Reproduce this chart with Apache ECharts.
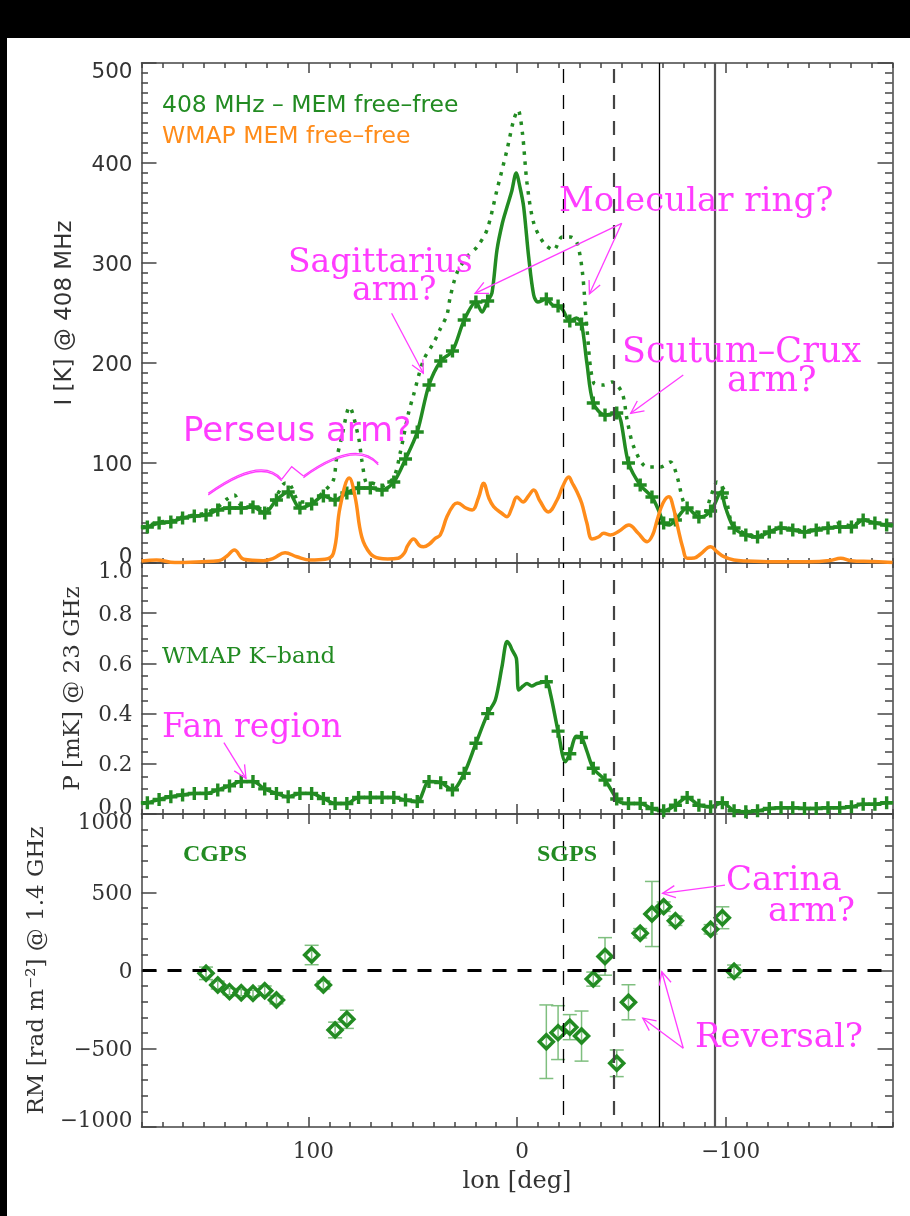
<!DOCTYPE html>
<html>
<head>
<meta charset="utf-8">
<script src="https://cdn.jsdelivr.net/npm/echarts@6/dist/echarts.min.js"></script>
<style>
  html, body { margin: 0; padding: 0; background: #000; width: 910px; height: 1216px; overflow: hidden; }
  #chart { position: absolute; left: 7px; top: 38px; width: 903px; height: 1178px; background: #fff; }
</style>
</head>
<body>
<div id="chart"></div>
<script>
// ---------------- data ----------------
// 408 MHz minus MEM free-free, brightness temperature [K] (fine sampling)
const lonI = [180, 177.19, 171.56, 165.94, 160.31, 154.69, 149.06, 143.44, 137.81, 132.19,
  126.56, 120.94, 115.31, 109.69, 104.06, 98.44, 92.81, 87.19, 81.56, 75.94,
  70.31, 64.69, 59.06, 53.44, 47.81, 42.19, 36.56, 30.94, 25.31, 19.69,
  16.8, 14.06, 12, 9.6, 7, 4.8, 2.5, 0.4, -1.5, -3.2,
  -5.6, -8, -10, -14.06, -17, -19.69, -22, -25.31, -28.5, -30.94,
  -33.5, -36.56, -42.19, -47.81, -53.44, -59.06, -64.69, -68, -70.31, -73,
  -75.94, -81.56, -87.19, -90, -92.81, -95, -97.6, -100, -104.06, -109.69,
  -115.31, -120.94, -126.56, -132.19, -137.81, -143.44, -149.06, -154.69, -160.31, -165.94,
  -171.56, -177.19, -180];
const valI = [35, 36, 40, 41, 45, 47, 48, 53, 55, 55,
  56, 50, 63, 71, 55, 59, 67, 63, 70, 75,
  75, 73, 81, 104, 131, 178, 202, 212, 243, 261,
  251, 262, 270, 313, 340, 356, 372, 390, 375, 356,
  306, 268, 261, 264, 258, 257, 253, 242, 245, 239,
  200, 160, 148, 150, 100, 78, 66, 52, 40, 38,
  43, 55, 46, 47, 52, 60, 71, 55, 35, 28,
  26, 31, 35, 33, 31, 33, 35, 36, 36, 43,
  40, 38, 37];

// total 408 MHz brightness [K] (dotted)
const lonD = [180, 177.19, 171.56, 165.94, 160.31, 154.69, 149.06, 143.44, 139, 135.5,
  132.19, 126.56, 120.94, 115.31, 111, 109.69, 104.06, 98.44, 92.81, 88,
  86.6, 84, 80.3, 76, 74.4, 72, 70.31, 64.69, 59.06, 56,
  52, 49.6, 44.8, 40, 36.8, 33.6, 32, 28.8, 24, 19.2,
  14.4, 9.6, 4.8, 1.6, -0.5, -2.6, -4.8, -8, -12.8, -17.6,
  -21.6, -25.6, -28.8, -31.4, -33.6, -36.8, -41.6, -45.6, -50.4, -52.8,
  -56, -62.4, -68.8, -73.6, -76.8, -80, -83.2, -89.6, -92.8, -96,
  -99.2, -102.4, -104.06, -109.69, -115.31, -120.94, -126.56, -132.19, -137.81, -143.44,
  -149.06, -154.69, -160.31, -165.94, -171.56, -177.19, -180];
const valD = [36, 37, 41, 42, 46, 48, 50, 56, 64, 68,
  58, 58, 52, 67, 80, 80, 61, 62, 71, 83,
  103, 126, 156, 126, 103, 80, 80, 77, 86, 110,
  150, 168, 203, 220, 234, 248, 266, 290, 306, 316,
  333, 373, 413, 443, 453, 430, 380, 340, 320, 313,
  326, 326, 320, 290, 233, 180, 178, 181, 170, 143,
  116, 96, 96, 101, 86, 60, 53, 50, 66, 81,
  73, 43, 37, 29, 27, 32, 36, 34, 32, 34,
  37, 40, 37, 43, 40, 38, 37];

// WMAP MEM free-free, scaled to 408 MHz [K]
const lonO = [180, 172.8, 164, 151, 143, 139, 135.5, 131, 121.6, 116.8,
  111.2, 105.6, 99, 92, 88, 84.8, 80.4, 77.6, 74.4, 70.4,
  66, 62, 57, 54, 52.5, 49.6, 46.5, 44.8, 42, 39.2,
  36.8, 33.6, 30.4, 28.5, 24.5, 21.5, 18.5, 16, 13.5, 11.2,
  7.5, 4.8, 2.5, 0, -2.9, -5.5, -8, -11, -15, -19.2,
  -22, -24.8, -26.5, -28.8, -31, -33.5, -36, -39, -41.6, -44.8,
  -49, -53.6, -58, -62.4, -65, -67.2, -70, -72.8, -75, -77,
  -79.5, -81.6, -85, -88, -92.8, -96, -99.2, -104, -110, -123,
  -140, -150, -155.2, -160, -170, -180];
const valO = [2, 3, 0.5, 1.3, 2.3, 7, 13, 3.7, 2.3, 4.7,
  10.3, 6.3, 3, 3.7, 9.7, 56, 85, 66, 26, 9.7,
  4.7, 4, 4.7, 10, 17, 24, 17, 16.3, 19, 24.7,
  28, 46.3, 58, 60, 55, 53, 65, 79.7, 65, 56.3,
  50, 46.3, 55, 66, 61, 67, 73, 62, 51, 63,
  77, 86, 80, 71, 60, 40, 24, 26, 29.7, 28,
  32, 38, 30, 21.3, 28, 43, 60, 66.3, 55, 36.3,
  15, 4.7, 5, 9, 16.3, 11, 6.3, 3, 2, 1.3,
  1.3, 2.5, 4.7, 2.3, 1.5, 0.5];

// WMAP K-band polarized intensity [mK]
const lonP = [180, 177.19, 171.56, 165.94, 160.31, 154.69, 149.06, 143.44, 137.81, 132.19,
  126.56, 120.94, 115.31, 109.69, 104.06, 98.44, 92.81, 87.19, 81.56, 75.94,
  70.31, 64.69, 59.06, 53.44, 47.81, 42.19, 36.56, 30.94, 25.31, 19.69,
  14.06, 10.4, 7.2, 4.8, 3.5, 2.4, 0.3, -0.8, -3, -4.8,
  -7, -9.6, -14.06, -16, -19.69, -23.2, -25.31, -28.5, -30.94, -33.6,
  -36.56, -42.19, -47.81, -50, -53.44, -59.06, -64.69, -70.31, -75.94, -81.56,
  -87.19, -92.81, -98.44, -104.06, -109.69, -115.31, -120.94, -126.56, -132.19, -137.81,
  -143.44, -149.06, -154.69, -160.31, -165.94, -171.56, -177.19, -180];
const valP = [0.042, 0.045, 0.058, 0.069, 0.076, 0.082, 0.082, 0.096, 0.112, 0.129,
  0.129, 0.100, 0.082, 0.069, 0.082, 0.082, 0.062, 0.042, 0.042, 0.066,
  0.066, 0.066, 0.066, 0.056, 0.050, 0.129, 0.125, 0.096, 0.162, 0.282,
  0.400, 0.454, 0.587, 0.687, 0.675, 0.654, 0.620, 0.494, 0.510, 0.520,
  0.510, 0.520, 0.527, 0.480, 0.330, 0.208, 0.240, 0.310, 0.305, 0.248,
  0.182, 0.135, 0.060, 0.045, 0.042, 0.042, 0.022, 0.013, 0.035, 0.066,
  0.035, 0.029, 0.045, 0.013, 0.009, 0.013, 0.022, 0.025, 0.025, 0.022,
  0.022, 0.025, 0.025, 0.029, 0.039, 0.039, 0.045, 0.045];

// longitude bins carrying '+' symbols
const lonPlus = [177.19, 171.56, 165.94, 160.31, 154.69, 149.06, 143.44, 137.81, 132.19, 126.56,
  120.94, 115.31, 109.69, 104.06, 98.44, 92.81, 87.19, 81.56, 75.94, 70.31,
  64.69, 59.06, 53.44, 47.81, 42.19, 36.56, 30.94, 25.31, 19.69, 14.06,
  -14.06, -19.69, -25.31, -30.94, -36.56, -42.19, -47.81, -53.44, -59.06, -64.69,
  -70.31, -75.94, -81.56, -87.19, -92.81, -98.44, -104.06, -109.69, -115.31, -120.94,
  -126.56, -132.19, -137.81, -143.44, -149.06, -154.69, -160.31, -165.94, -171.56, -177.19];
const plusI = [36, 40, 41, 45, 47, 48, 53, 55, 55, 56,
  50, 63, 71, 55, 59, 67, 63, 70, 75, 75,
  73, 81, 104, 131, 178, 202, 212, 243, 261, 262,
  264, 257, 242, 239, 160, 148, 150, 100, 78, 66,
  40, 43, 55, 46, 52, 70, 35, 28, 26, 31,
  35, 33, 31, 33, 35, 36, 36, 43, 40, 38];
const plusP = [0.045, 0.058, 0.069, 0.076, 0.082, 0.082, 0.096, 0.112, 0.129, 0.129,
  0.100, 0.082, 0.069, 0.082, 0.082, 0.062, 0.042, 0.042, 0.066, 0.066,
  0.066, 0.066, 0.056, 0.050, 0.129, 0.125, 0.096, 0.162, 0.282, 0.400,
  0.527, 0.330, 0.240, 0.305, 0.182, 0.135, 0.060, 0.042, 0.042, 0.022,
  0.013, 0.035, 0.066, 0.035, 0.029, 0.045, 0.013, 0.009, 0.013, 0.022,
  0.025, 0.025, 0.022, 0.022, 0.025, 0.025, 0.029, 0.039, 0.039, 0.045];

// rotation measures at 1.4 GHz (CGPS and SGPS fields) [rad m^-2]
const lonRM = [149.06, 143.44, 137.81, 132.19, 126.56, 120.94, 115.31, 98.44, 92.81, 87.19, 81.56,
  -14.06, -19.69, -25.31, -30.94, -36.56, -42.19, -47.81, -53.44, -59.06, -64.69,
  -70.31, -75.94, -92.81, -98.44, -104.06];
const rmVal = [-18, -93, -135, -142, -146, -129, -188, 99, -93, -380, -312,
  -455, -397, -362, -419, -55, 90, -593, -203, 238, 361,
  408, 318, 263, 337, -5];
const rmErr = [40, 25, 20, 20, 20, 30, 25, 62, 25, 50, 58,
  235, 172, 80, 160, 45, 120, 85, 112, 30, 208,
  30, 30, 30, 70, 40];

// reference longitudes marked across all panels
const refLon = [-22, -46.5, -68, -95];

// x tick labels
const lonTicks = [100, 0, -100];

// ---------------- styling ----------------
const GREEN = '#228b22';
const ORANGE = '#ff8c1a';
const MAGENTA = '#ff3cff';
const ERRC = '#7fbf7f';
const FRAME = '#444';
const LABEL = '#333';
const SANS = "'DejaVu Sans ExtraLight', 'DejaVu Sans', sans-serif";
const SERIF = "'DejaVu Serif', serif";
const TIMES = "'Liberation Serif', serif";
const PLUS = 'path://M4.8,0H8.2V4.8H13V8.2H8.2V13H4.8V8.2H0V4.8H4.8Z';

const zip = (a, b) => a.map((x, i) => [x, b[i]]);
const minus = v => (v < 0 ? '\u2212' + Math.abs(v) : String(v));

const grids = [
  { left: 134.5, width: 751, top: 25, height: 500 },
  { left: 134.5, width: 751, top: 525, height: 251 },
  { left: 134.5, width: 751, top: 776, height: 313 }
];

const yCfg = [
  { min: 0, max: 500, major: 100, minor: 10, font: SANS, fmt: v => String(v),
    name: 'I [K] @ 408 MHz', gap: 65, nameSize: 23 },
  { min: 0, max: 1, major: 0.2, minor: 0.05, font: SERIF, fmt: v => v.toFixed(1),
    name: 'P [mK] @ 23 GHz', gap: 57, nameSize: 23 },
  { min: -1000, max: 1000, major: 500, minor: 100, font: SERIF, fmt: minus,
    name: 'RM [rad m\u207B\u00B2] @ 1.4 GHz', gap: 93, nameSize: 23 }
];

const frameLine = { lineStyle: { color: FRAME, width: 1.5 } };

function xAxes(g) {
  const base = { gridIndex: g, type: 'value', min: -180, max: 180, inverse: true,
    splitLine: { show: false }, axisPointer: { show: false } };
  const bottomLabels = g === 2;
  const major = {
    ...base, position: 'bottom',
    axisLine: { show: true, onZero: false, ...frameLine },
    axisTick: { show: true, inside: true, length: 10, customValues: lonTicks, ...frameLine },
    axisLabel: bottomLabels ? {
      show: true, customValues: lonTicks, margin: 14, color: LABEL,
      fontFamily: SERIF, fontSize: 21.5,
      formatter: v => '{a|' + minus(v) + '}',
      rich: { a: { padding: [0, 0, 0, 10] } }
    } : { show: false }
  };
  if (bottomLabels) {
    major.name = 'lon [deg]';
    major.nameLocation = 'middle';
    major.nameGap = 43;
    major.nameTextStyle = { fontFamily: SERIF, fontSize: 24, color: LABEL };
  }
  return [
    major,
    { ...base, position: 'bottom', interval: 10,
      axisLine: { show: false, onZero: false },
      axisTick: { show: true, inside: true, length: 5, ...frameLine },
      axisLabel: { show: false } },
    { ...base, position: 'top',
      axisLine: { show: true, onZero: false, ...frameLine },
      axisTick: { show: true, inside: true, length: 10, customValues: lonTicks, ...frameLine },
      axisLabel: { show: false } },
    { ...base, position: 'top', interval: 10,
      axisLine: { show: false, onZero: false },
      axisTick: { show: true, inside: true, length: 5, ...frameLine },
      axisLabel: { show: false } }
  ];
}

function yAxes(g) {
  const c = yCfg[g];
  const base = { gridIndex: g, type: 'value', min: c.min, max: c.max,
    splitLine: { show: false }, axisPointer: { show: false } };
  const near = (a, b) => Math.abs(a - b) < 1e-9;
  return [
    { ...base, position: 'left', interval: c.major,
      axisLine: { show: true, onZero: false, ...frameLine },
      axisTick: { show: true, inside: true, length: 15, ...frameLine },
      axisLabel: {
        show: true, margin: 9, color: LABEL, fontFamily: c.font, fontSize: 21.5,
        formatter: v => {
          const s = c.fmt(v);
          if (near(v, c.max)) return '{t|' + s + '}';
          if (near(v, c.min)) return '{b|' + s + '}';
          return '{m|' + s + '}';
        },
        rich: {
          t: { padding: [19, 0, 0, 0] },
          m: { padding: [4, 0, 0, 0] },
          b: { padding: [0, 0, 12, 0] }
        }
      },
      name: c.name, nameLocation: 'middle', nameGap: c.gap,
      nameTextStyle: { fontFamily: c.font, fontSize: c.nameSize, color: LABEL } },
    { ...base, position: 'left', interval: c.minor,
      axisLine: { show: false, onZero: false },
      axisTick: { show: true, inside: true, length: 6.5, ...frameLine },
      axisLabel: { show: false } },
    { ...base, position: 'right', interval: c.major,
      axisLine: { show: true, onZero: false, ...frameLine },
      axisTick: { show: true, inside: true, length: 15, ...frameLine },
      axisLabel: { show: false } },
    { ...base, position: 'right', interval: c.minor,
      axisLine: { show: false, onZero: false },
      axisTick: { show: true, inside: true, length: 7.5, ...frameLine },
      axisLabel: { show: false } }
  ];
}

// vertical reference lines: two dashed, two solid
const refStyles = [
  { type: [14, 12], color: '#000', width: 1.3, dashOffset: 14 },
  { type: [14, 12], color: '#444', width: 2.2, dashOffset: 14 },
  { type: 'solid', color: '#000', width: 1.3 },
  { type: 'solid', color: '#555', width: 2.2 }
];
const refLines = refLon.map((l, i) => ({ xAxis: l, lineStyle: refStyles[i] }));
const markRefs = extra => ({
  silent: true, animation: false, symbol: ['none', 'none'],
  label: { show: false }, emphasis: { disabled: true },
  data: refLines.concat(extra || [])
});

const ax = g => ({ xAxisIndex: 4 * g, yAxisIndex: 4 * g });

const option = {
  animation: false,
  backgroundColor: '#fff',
  grid: grids.map(r => ({ ...r, containLabel: false, outerBoundsMode: 'none' })),
  xAxis: [0, 1, 2].flatMap(xAxes),
  yAxis: [0, 1, 2].flatMap(yAxes),
  series: [
    // panel 1
    { type: 'line', ...ax(0), data: zip(lonD, valD), symbol: 'none', smooth: 0.3,
      lineStyle: { color: GREEN, width: 3.5, type: [3.5, 6.5], cap: 'butt' }, z: 3 },
    { type: 'line', ...ax(0), data: zip(lonI, valI), symbol: 'none', smooth: 0.3,
      lineStyle: { color: GREEN, width: 3.5 }, z: 3, markLine: markRefs() },
    { type: 'scatter', ...ax(0), data: zip(lonPlus, plusI), symbol: PLUS, symbolSize: 13,
      itemStyle: { color: GREEN, opacity: 1 }, z: 4 },
    { type: 'line', ...ax(0), data: zip(lonO, valO), symbol: 'none', smooth: 0.4,
      lineStyle: { color: ORANGE, width: 3.5 }, z: 5 },
    // panel 2
    { type: 'line', ...ax(1), data: zip(lonP, valP), symbol: 'none', smooth: 0.3,
      lineStyle: { color: GREEN, width: 3.5 }, z: 3, markLine: markRefs() },
    { type: 'scatter', ...ax(1), data: zip(lonPlus, plusP), symbol: PLUS, symbolSize: 13,
      itemStyle: { color: GREEN, opacity: 1 }, z: 4 },
    // panel 3
    { type: 'custom', ...ax(2), z: 3,
      data: lonRM.map((l, i) => [l, rmVal[i], rmErr[i]]),
      renderItem: (params, api) => {
        const x = api.value(0), y = api.value(1), e = api.value(2);
        const top = api.coord([x, y + e]);
        const bot = api.coord([x, y - e]);
        const w = 7;
        const st = { stroke: ERRC, lineWidth: 1.5 };
        return { type: 'group', children: [
          { type: 'line', shape: { x1: top[0], y1: top[1], x2: bot[0], y2: bot[1] }, style: st },
          { type: 'line', shape: { x1: top[0] - w, y1: top[1], x2: top[0] + w, y2: top[1] }, style: st },
          { type: 'line', shape: { x1: bot[0] - w, y1: bot[1], x2: bot[0] + w, y2: bot[1] }, style: st }
        ] };
      },
      markLine: markRefs([{ yAxis: 0, lineStyle: { type: [14, 11], dashOffset: 14, color: '#000', width: 3 } }])
    },
    { type: 'scatter', ...ax(2), data: zip(lonRM, rmVal), symbol: 'diamond', symbolSize: 14,
      itemStyle: { color: 'rgba(0,0,0,0)', borderColor: GREEN, borderWidth: 3.5, opacity: 1 }, z: 4 }
  ]
};

const chart = echarts.init(document.getElementById('chart'), null, { renderer: 'canvas' });
chart.setOption(option);

// ---------------- annotations (anchored in data units) ----------------
const P = (g, lon, v) => chart.convertToPixel({ xAxisIndex: 4 * g, yAxisIndex: 4 * g }, [lon, v]);

const labels = [
  { g: 0, at: [170.2, 457], text: '408 MHz \u2013 MEM free\u2013free', color: GREEN, font: SANS, size: 23.5 },
  { g: 0, at: [170.2, 426.3], text: 'WMAP MEM free\u2013free', color: ORANGE, font: SANS, size: 23.5 },
  { g: 0, at: [-20.1, 360.5], text: 'Molecular ring?', color: MAGENTA, font: SERIF, size: 34 },
  { g: 0, at: [109.8, 300], text: 'Sagittarius', color: MAGENTA, font: SERIF, size: 33 },
  { g: 0, at: [79.1, 271.5], text: 'arm?', color: MAGENTA, font: SERIF, size: 33 },
  { g: 0, at: [-50.3, 210.5], text: 'Scutum\u2013Crux', color: MAGENTA, font: SERIF, size: 35 },
  { g: 0, at: [-100.7, 181.3], text: 'arm?', color: MAGENTA, font: SERIF, size: 35 },
  { g: 0, at: [160.1, 131], text: 'Perseus arm?', color: MAGENTA, font: SANS, size: 34 },
  { g: 1, at: [170.2, 0.626], text: 'WMAP K\u2013band', color: GREEN, font: SERIF, size: 23 },
  { g: 1, at: [170.2, 0.341], text: 'Fan region', color: MAGENTA, font: SERIF, size: 33 },
  { g: 2, at: [160.1, 740], text: 'CGPS', color: GREEN, font: TIMES, size: 24, weight: 'bold' },
  { g: 2, at: [-9.6, 740], text: 'SGPS', color: GREEN, font: TIMES, size: 24, weight: 'bold' },
  { g: 2, at: [-100.2, 573], text: 'Carina', color: MAGENTA, font: SERIF, size: 34 },
  { g: 2, at: [-120.3, 370.6], text: 'arm?', color: MAGENTA, font: SERIF, size: 34 },
  { g: 2, at: [-85.3, -433], text: 'Reversal?', color: MAGENTA, font: SERIF, size: 34 }
];

const arrows = [
  { g: 0, from: [60.1, 249.7], to: [44.9, 189.7] },
  { g: 0, from: [-50.2, 339.7], to: [20.1, 269.7] },
  { g: 0, from: [-50.2, 339.7], to: [-34.7, 269] },
  { g: 0, from: [-79.7, 188], to: [-54.5, 149.7] },
  { g: 1, from: [140.5, 0.284], to: [129.9, 0.142] },
  { g: 2, from: [-99.7, 546], to: [-69.8, 493] },
  { g: 2, from: [-79.7, -497], to: [-69.4, -8] },
  { g: 2, from: [-79.7, -497], to: [-60.3, -305] }
];

// Perseus arm bracket: arc, kink, arc
const perseusArcs = [
  { start: [148, 69.7], peak: [126.4, 92.3], end: [112.8, 83.7] },
  { start: [102.4, 87], peak: [80.9, 109], end: [66.5, 99.7] }
];
const perseusKink = [[112.8, 83.7], [108.0, 96.3], [102.4, 87]];

function buildGraphic() {
  const els = [];
  labels.forEach(l => {
    const p = P(l.g, l.at[0], l.at[1]);
    els.push({ type: 'text', silent: true, z: 100, x: p[0], y: p[1],
      style: { text: l.text, fill: l.color, fontFamily: l.font, fontSize: l.size,
        fontWeight: l.weight || 'normal', align: 'left', verticalAlign: 'middle' } });
  });
  const ms = { stroke: MAGENTA, lineWidth: 1.3, fill: null };
  arrows.forEach(a => {
    const f = P(a.g, a.from[0], a.from[1]);
    const t = P(a.g, a.to[0], a.to[1]);
    const th = Math.atan2(f[1] - t[1], f[0] - t[0]);
    const L = 14, s = 0.45;
    const h1 = [t[0] + L * Math.cos(th + s), t[1] + L * Math.sin(th + s)];
    const h2 = [t[0] + L * Math.cos(th - s), t[1] + L * Math.sin(th - s)];
    els.push({ type: 'polyline', silent: true, z: 100, shape: { points: [f, t] }, style: ms });
    els.push({ type: 'polyline', silent: true, z: 100, shape: { points: [h1, t, h2] }, style: ms });
  });
  perseusArcs.forEach(a => {
    const s = P(0, a.start[0], a.start[1]);
    const pk = P(0, a.peak[0], a.peak[1]);
    const e = P(0, a.end[0], a.end[1]);
    const cp = [2 * pk[0] - (s[0] + e[0]) / 2, 2 * pk[1] - (s[1] + e[1]) / 2];
    [0, 1.6].forEach(d => {
      els.push({ type: 'bezierCurve', silent: true, z: 100,
        shape: { x1: s[0], y1: s[1] + d, x2: e[0], y2: e[1] + d, cpx1: cp[0], cpy1: cp[1] + d },
        style: ms });
    });
  });
  els.push({ type: 'polyline', silent: true, z: 100,
    shape: { points: perseusKink.map(q => P(0, q[0], q[1])) }, style: ms });
  return els;
}

chart.setOption({ graphic: { elements: buildGraphic() } });
</script>
</body>
</html>
